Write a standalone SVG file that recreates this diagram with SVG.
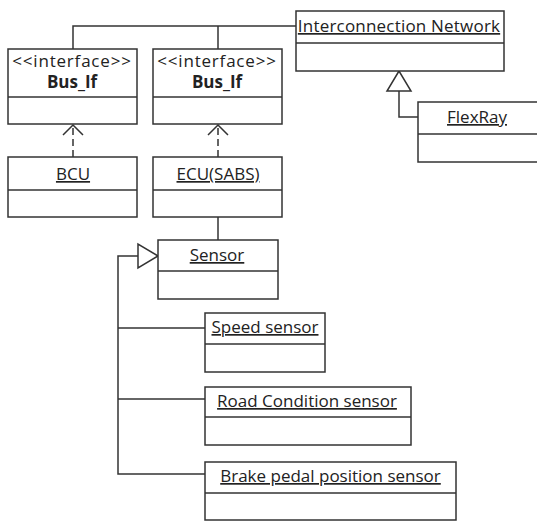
<svg xmlns="http://www.w3.org/2000/svg" width="537" height="521" viewBox="0 0 537 521">
<style>
  .box{fill:#fff;stroke:#333;stroke-width:1.5}
  .div{stroke:#333;stroke-width:1.5}
  .t{font-family:"Open Sans","Noto Sans",sans-serif;font-size:17px;fill:#222;text-anchor:middle}
  .u{text-decoration:underline}
  .b{font-weight:bold}
  .c{fill:none;stroke:#333;stroke-width:1.5}
  .d{fill:none;stroke:#333;stroke-width:1.5;stroke-dasharray:7 4}
  .tri{fill:#fff;stroke:#333;stroke-width:1.5}
</style>
<rect width="537" height="521" fill="#fff"/>
<g id="connectors">
  <polyline class="c" points="73,49 73,26 296,26"/>
  <line class="c" x1="218" y1="26" x2="218" y2="49"/>
  <polyline class="c" points="399,91 399,117 418,117"/>
  <polygon class="tri" points="399,71 387,91 411,91"/>
  <line class="d" x1="73" y1="157" x2="73" y2="125"/>
  <polyline class="c" points="63,135 73,125 83,135"/>
  <line class="d" x1="218" y1="157" x2="218" y2="125"/>
  <polyline class="c" points="208,135 218,125 228,135"/>
  <line class="c" x1="218" y1="217" x2="218" y2="240"/>
  <polyline class="c" points="138,256 118,256 118,474 205,474"/>
  <line class="c" x1="118" y1="328" x2="205" y2="328"/>
  <line class="c" x1="118" y1="399" x2="205" y2="399"/>
  <polygon class="tri" points="158,256 138,244 138,268"/>
</g>
<g id="interconnection">
  <rect class="box" x="296" y="11" width="208" height="60"/>
  <line class="div" x1="296" y1="43" x2="504" y2="43"/>
  <text class="t u" x="399" y="32" letter-spacing="0.2">Interconnection Network</text>
</g>
<g id="busif1">
  <rect class="box" x="8" y="49" width="129" height="75"/>
  <line class="div" x1="8" y1="97" x2="137" y2="97"/>
  <text class="t" x="72" y="67" letter-spacing="0.8">&lt;&lt;interface&gt;&gt;</text>
  <text class="t b" x="72" y="88">Bus_If</text>
</g>
<g id="busif2">
  <rect class="box" x="153" y="49" width="129" height="75"/>
  <line class="div" x1="153" y1="97" x2="282" y2="97"/>
  <text class="t" x="217" y="67" letter-spacing="0.8">&lt;&lt;interface&gt;&gt;</text>
  <text class="t b" x="217" y="88">Bus_If</text>
</g>
<g id="flexray">
  <rect class="box" x="418" y="102" width="122" height="60"/>
  <line class="div" x1="418" y1="134" x2="540" y2="134"/>
  <text class="t u" x="477" y="123">FlexRay</text>
</g>
<g id="bcu">
  <rect class="box" x="8" y="157" width="129" height="60"/>
  <line class="div" x1="8" y1="190" x2="137" y2="190"/>
  <text class="t u" x="73" y="180">BCU</text>
</g>
<g id="ecu">
  <rect class="box" x="153" y="157" width="129" height="60"/>
  <line class="div" x1="153" y1="190" x2="282" y2="190"/>
  <text class="t u" x="218" y="180">ECU(SABS)</text>
</g>
<g id="sensor">
  <rect class="box" x="158" y="240" width="120" height="59"/>
  <line class="div" x1="158" y1="271" x2="278" y2="271"/>
  <text class="t u" x="217" y="261">Sensor</text>
</g>
<g id="speed">
  <rect class="box" x="205" y="313" width="120" height="59"/>
  <line class="div" x1="205" y1="344" x2="325" y2="344"/>
  <text class="t u" x="265" y="333">Speed sensor</text>
</g>
<g id="road">
  <rect class="box" x="205" y="387" width="206" height="58"/>
  <line class="div" x1="205" y1="417" x2="411" y2="417"/>
  <text class="t u" x="307" y="407">Road Condition sensor</text>
</g>
<g id="brake">
  <rect class="box" x="205" y="462" width="251" height="58"/>
  <line class="div" x1="205" y1="493" x2="456" y2="493"/>
  <text class="t u" x="330.5" y="482">Brake pedal position sensor</text>
</g>
</svg>
